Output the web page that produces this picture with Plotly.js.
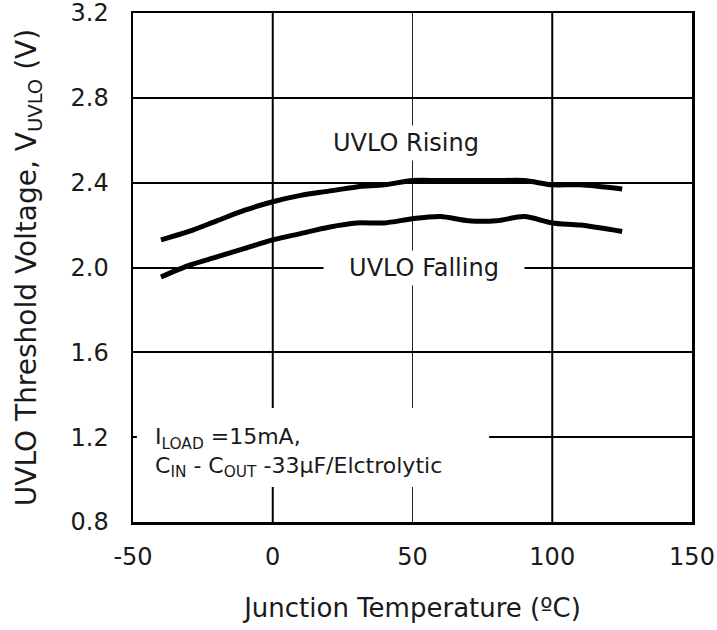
<!DOCTYPE html>
<html>
<head>
<meta charset="utf-8">
<script src="https://cdn.plot.ly/plotly-3.0.1.min.js"></script>
<style>html,body{margin:0;padding:0;background:#fff;}</style>
</head>
<body>
<div id="chart" style="width:717px;height:630px;"></div>
<script>
// Junction temperature (°C)
var temps = [-40, -30, -20, -10, 0, 10, 20, 30, 40, 50, 60, 70, 80, 90, 100, 110, 125];
// UVLO threshold voltage (V)
var uvloRising  = [2.13, 2.17, 2.22, 2.27, 2.31, 2.34, 2.36, 2.38, 2.39, 2.41, 2.41, 2.41, 2.41, 2.41, 2.39, 2.39, 2.37];
var uvloFalling = [1.955, 2.01, 2.05, 2.09, 2.13, 2.16, 2.19, 2.21, 2.21, 2.23, 2.24, 2.22, 2.22, 2.24, 2.21, 2.20, 2.17];

var xTicks = [-50, 0, 50, 100, 150];
var xTickLabels = ['-50', '0', '50', '100', '150'];
var yTicks = [0.8, 1.2, 1.6, 2.0, 2.4, 2.8, 3.2];
var yTickLabels = ['0.8', '1.2', '1.6', '2.0', '2.4', '2.8', '3.2'];
var thickGridX = [0, 100];
var thinGridX = [50];

var seriesNames = ['UVLO Rising', 'UVLO Falling'];
var noteText = 'I<sub>LOAD</sub> =15mA,<br>C<sub>IN</sub> - C<sub>OUT</sub> -33\u00B5F/Elctrolytic';

var FONT = 'DejaVu Sans, Arial, sans-serif';
var TXT = '#1a1a1a';

var traces = [
  {x: temps, y: uvloRising, name: seriesNames[0], mode: 'lines',
   line: {color: '#000', width: 5, shape: 'spline', smoothing: 0.8}},
  {x: temps, y: uvloFalling, name: seriesNames[1], mode: 'lines',
   line: {color: '#000', width: 5, shape: 'spline', smoothing: 0.8}}
];

var shapes = [];
thickGridX.forEach(function(v){
  shapes.push({type:'line', xref:'x', yref:'paper', x0:v, x1:v, y0:0, y1:1, layer:'below',
               line:{color:'#000', width:2}});
});
thinGridX.forEach(function(v){
  shapes.push({type:'line', xref:'x', yref:'paper', x0:v, x1:v, y0:0, y1:1, layer:'below',
               line:{color:'#222', width:1}});
});
// white panel behind the conditions note
shapes.push({type:'rect', xref:'x', yref:'y', x0:-48.6, x1:77.4, y0:0.965, y1:1.338,
             layer:'above', line:{width:0}, fillcolor:'#fff'});

var layout = {
  width: 717, height: 630,
  margin: {l: 133, r: 25, t: 13, b: 108, pad: 0},
  paper_bgcolor: '#fff', plot_bgcolor: '#fff',
  showlegend: false,
  font: {family: FONT, color: TXT, size: 24},
  xaxis: {
    range: [-50, 150], tickvals: xTicks, ticktext: xTickLabels,
    showgrid: false, zeroline: false,
    showline: true, mirror: true, linecolor: '#000', linewidth: 2.5,
    ticks: 'outside', ticklen: 12, tickcolor: 'rgba(0,0,0,0)',
    ticklabeloverflow: 'allow',
    tickfont: {family: FONT, size: 24, color: TXT},
    title: {text: 'Junction Temperature (\u00BAC)', font: {family: FONT, size: 26, color: TXT}, standoff: 29},
    automargin: false
  },
  yaxis: {
    range: [0.8, 3.2], tickvals: yTicks, ticktext: yTickLabels,
    showgrid: true, gridcolor: '#000', gridwidth: 2, zeroline: false,
    showline: true, mirror: true, linecolor: '#000', linewidth: 2.5,
    ticks: 'outside', ticklen: 17, tickcolor: 'rgba(0,0,0,0)',
    ticklabeloverflow: 'allow',
    tickfont: {family: FONT, size: 24, color: TXT},
    title: {text: 'UVLO Threshold Voltage, V<sub>UVLO</sub> (V)', font: {family: FONT, size: 28, color: TXT}, standoff: 26},
    automargin: false
  },
  shapes: shapes,
  annotations: [
    {x: 47.7, y: 2.587, xref: 'x', yref: 'y', text: seriesNames[0], showarrow: false,
     font: {family: FONT, size: 24, color: TXT}, bgcolor: '#fff', borderpad: 3},
    {x: 54, y: 2.0, xref: 'x', yref: 'y', text: seriesNames[1], showarrow: false,
     font: {family: FONT, size: 24, color: TXT}, bgcolor: '#fff', width: 200, height: 34, borderpad: 0},
    {x: -42.8, y: 1.13, xref: 'x', yref: 'y', xanchor: 'left', yanchor: 'middle', align: 'left',
     text: noteText, showarrow: false, font: {family: FONT, size: 22, color: TXT}}
  ]
};

Plotly.newPlot('chart', traces, layout, {displayModeBar: false, staticPlot: true});
</script>
</body>
</html>
